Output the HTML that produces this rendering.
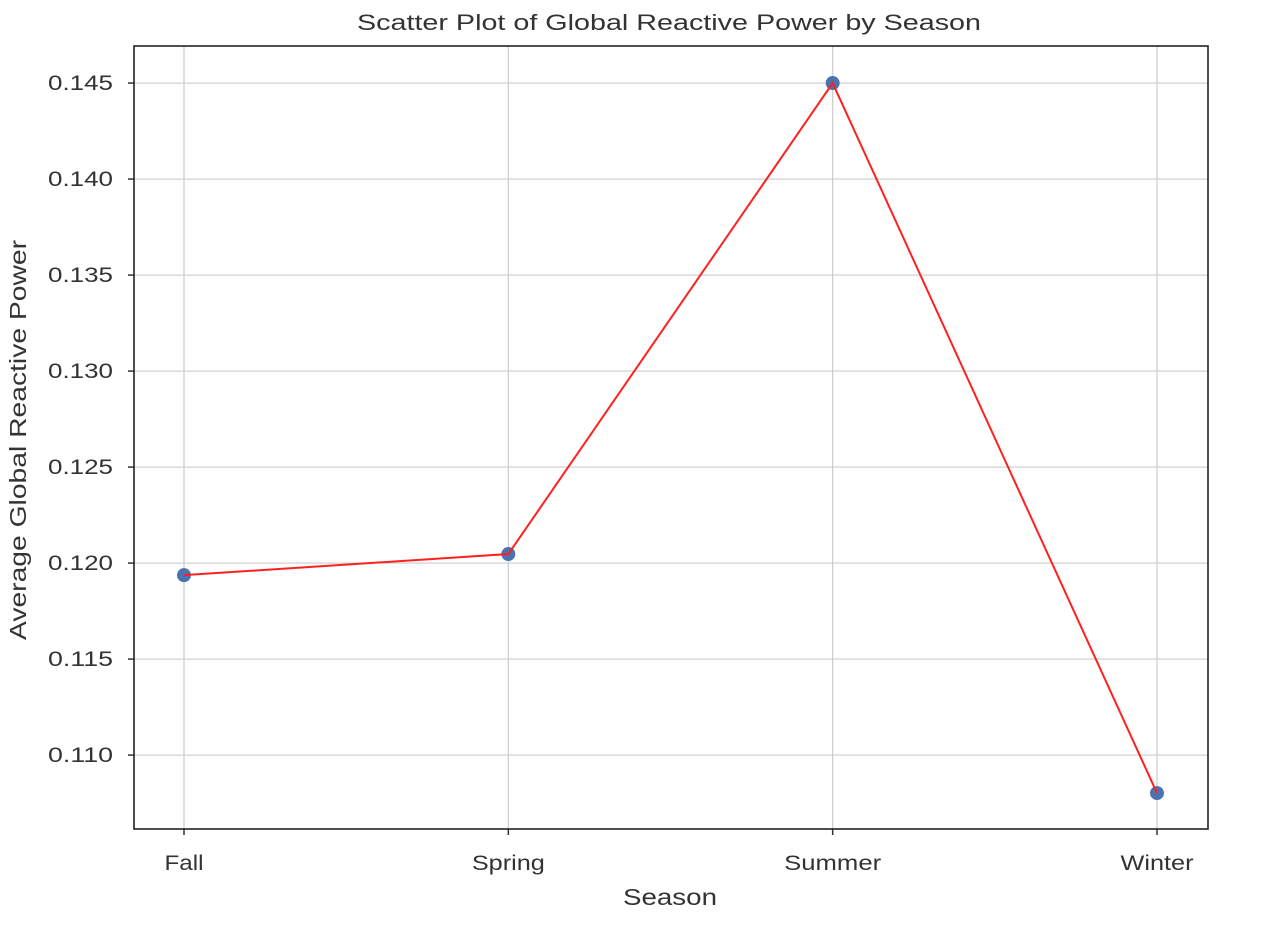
<!DOCTYPE html>
<html><head><meta charset="utf-8"><style>
html,body{margin:0;padding:0;background:#fff;}
svg{display:block;font-family:"Liberation Sans",Arial,sans-serif;}
</style></head><body>
<svg id="chart" width="1280" height="926">
</svg>
<script>
const categories = ["Fall","Spring","Summer","Winter"];
const values = [0.11937, 0.12047, 0.1450, 0.10802];
const yTicks = [0.110,0.115,0.120,0.125,0.130,0.135,0.140,0.145];
const yTickLabels = ["0.110","0.115","0.120","0.125","0.130","0.135","0.140","0.145"];

const L=134,R=1208,T=46,B=829;
const yMin=0.10615,yMax=0.14693;
const xPos=[184,508,832,1157];
const xLabelW=[39,73,97,73];
function x(i){return xPos[0]+(xPos[3]-xPos[0])*i/(categories.length-1);}
function y(v){return B-(v-yMin)/(yMax-yMin)*(B-T);}
const svg=document.getElementById('chart');
const NS='http://www.w3.org/2000/svg';
function mk(t,a,p){const e=document.createElementNS(NS,t);for(const k in a)e.setAttribute(k,a[k]);(p||svg).appendChild(e);return e;}

const grid=mk('g',{});


yTicks.forEach((v,i)=>{
  const g=mk('line',{x1:L,x2:R,y1:y(v),y2:y(v),stroke:'#cccccc','stroke-width':1.2},grid);
  
  
  const tk=mk('line',{x1:L-6,x2:L,y1:y(v),y2:y(v),stroke:'#333','stroke-width':1.5});
  
  
  const t=mk('text',{x:113,y:y(v)+7,'text-anchor':'end','font-size':21,fill:'#333',textLength:65,lengthAdjust:'spacingAndGlyphs'});
  t.textContent=yTickLabels[i];
  
  
});
categories.forEach((c,i)=>{
  const g=mk('line',{x1:x(i),x2:x(i),y1:T,y2:B,stroke:'#cccccc','stroke-width':1.2},grid);
  
  
  const tk=mk('line',{x1:x(i),x2:x(i),y1:B,y2:B+6,stroke:'#333','stroke-width':1.5});
  
  
  const t=mk('text',{x:x(i),y:B+41,'text-anchor':'middle','font-size':21,fill:'#333',textLength:xLabelW[i],lengthAdjust:'spacingAndGlyphs'});
  t.textContent=c;
  
  
});
const frame=mk('rect',{x:L,y:T,width:R-L,height:B-T,fill:'none',stroke:'#222','stroke-width':1.6});



values.forEach((v,i)=>{
  const c=mk('circle',{cx:x(i),cy:y(v),r:7,fill:'#4c72b0'});
  
  
});
const line=mk('polyline',{points:values.map((v,i)=>x(i)+','+y(v)).join(' '),fill:'none',stroke:'#ff2020','stroke-width':2});



const title=mk('text',{x:669,y:30,'text-anchor':'middle','font-size':22,fill:'#333',textLength:624,lengthAdjust:'spacingAndGlyphs'});
title.textContent='Scatter Plot of Global Reactive Power by Season';


const xt=mk('text',{x:670,y:905,'text-anchor':'middle','font-size':23,fill:'#333',textLength:94,lengthAdjust:'spacingAndGlyphs'});
xt.textContent='Season';


const yt=mk('text',{x:0,y:0,'text-anchor':'middle','font-size':23,fill:'#333',textLength:400,lengthAdjust:'spacingAndGlyphs',transform:'translate(26,440) rotate(-90)'});
yt.textContent='Average Global Reactive Power';


</script>
</body></html>
